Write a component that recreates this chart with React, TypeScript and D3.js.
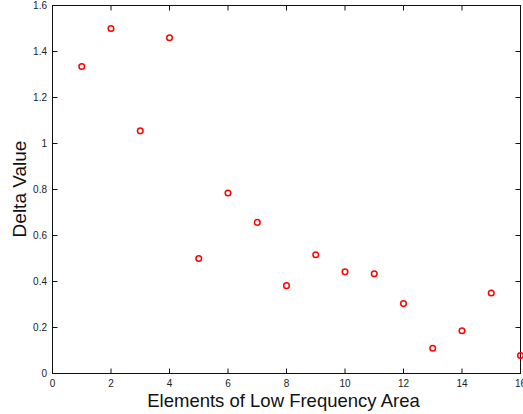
import React from "react";
import * as d3 from "d3";

const xValues = [1, 2, 3, 4, 5, 6, 7, 8, 9, 10, 11, 12, 13, 14, 15, 16];
const yValues = [1.335, 1.5, 1.055, 1.46, 0.5, 0.785, 0.657, 0.382, 0.516, 0.442, 0.434, 0.304, 0.11, 0.186, 0.35, 0.078];
const xTicks = [0, 2, 4, 6, 8, 10, 12, 14, 16];
const yTicks = [0, 0.2, 0.4, 0.6, 0.8, 1, 1.2, 1.4, 1.6];

const W = 523;
const H = 414;
const L = 52.5, R = 520.5, T = 5.5, B = 373.5;

export default function App() {
  const x = d3.scaleLinear().domain([0, 16]).range([L, R]);
  const y = d3.scaleLinear().domain([0, 1.6]).range([B, T]);
  const font = "Liberation Sans, Arial, Helvetica, sans-serif";
  const tl = 5;
  return (
    <svg width={W} height={H} style={{ position: "absolute", left: 0, top: 0, background: "#fff" }}>
      <rect x={L} y={T} width={R - L} height={B - T} fill="none" stroke="#111" strokeWidth={1} />
      {xTicks.map((t) => (
        <g key={"x" + t}>
          <line x1={x(t)} x2={x(t)} y1={B} y2={B - tl} stroke="#111" />
          <line x1={x(t)} x2={x(t)} y1={T} y2={T + tl} stroke="#111" />
          <text x={x(t)} y={386.5} textAnchor="middle" fontSize={10} fontFamily={font} fill="#222">
            {d3.format("")(t)}
          </text>
        </g>
      ))}
      {yTicks.map((t) => (
        <g key={"y" + t}>
          <line x1={L} x2={L + tl} y1={y(t)} y2={y(t)} stroke="#111" />
          <line x1={R} x2={R - tl} y1={y(t)} y2={y(t)} stroke="#111" />
          <text x={47} y={y(t) + 3.5} textAnchor="end" fontSize={10} fontFamily={font} fill="#222">
            {t === 0 ? "0" : d3.format("")(+t.toFixed(1))}
          </text>
        </g>
      ))}
      {xValues.map((xv, i) => (
        <circle key={i} cx={x(xv)} cy={y(yValues[i])} r={2.8} fill="none" stroke="#ff0000" strokeWidth={1.5} />
      ))}
      <text x={(L + R) / 2 - 3} y={406.5} textAnchor="middle" fontSize={18.5} fontFamily={font} fill="#111">
        Elements of Low Frequency Area
      </text>
      <text transform={`translate(26, 189) rotate(-90)`} textAnchor="middle" fontSize={19} fontFamily={font} fill="#111">
        Delta Value
      </text>
    </svg>
  );
}
